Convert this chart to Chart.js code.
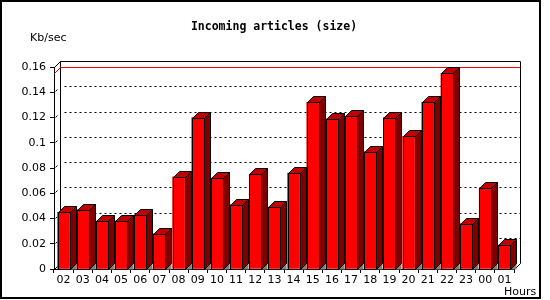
<!DOCTYPE html>
<html>
<head>
<meta charset="utf-8">
<script src="https://cdn.jsdelivr.net/npm/chart.js@4/dist/chart.umd.min.js"></script>
<style>
html,body{margin:0;padding:0;background:#fff;}
canvas{display:block;}
</style>
</head>
<body>
<canvas id="c" width="550" height="300"></canvas>
<script>
const hours = ['02','03','04','05','06','07','08','09','10','11','12','13','14','15','16','17','18','19','20','21','22','23','00','01'];
const sizes = [0.045,0.047,0.038,0.038,0.043,0.028,0.073,0.120,0.072,0.051,0.075,0.049,0.076,0.132,0.119,0.121,0.093,0.120,0.105,0.132,0.155,0.036,0.064,0.019];
const titleText = 'Incoming articles (size)';
const yTitle = 'Kb/sec';
const xTitle = 'Hours';
const yMax = 0.16;
const yStep = 0.02;

const D = 6;
const FONT = '"DejaVu Sans", sans-serif';

const threeD = {
  id: 'threeD',
  beforeDatasetsDraw(chart) {
    const ctx = chart.ctx, a = chart.chartArea, ys = chart.scales.y;
    const L = Math.round(a.left) + 0.5, R = Math.round(a.right) + 0.5;
    const T = Math.round(a.top) + 0.5, B = Math.round(a.bottom) + 0.5;
    ctx.save();
    ctx.lineWidth = 1;
    ctx.strokeStyle = '#000';
    ctx.beginPath();
    ctx.moveTo(L + D, B - D); ctx.lineTo(L + D, T - D); ctx.lineTo(R + D, T - D); ctx.lineTo(R + D, B - D);
    ctx.moveTo(L, T); ctx.lineTo(L + D, T - D);
    ctx.moveTo(L, B); ctx.lineTo(L + D, B - D);
    ctx.moveTo(R, B); ctx.lineTo(R + D, B - D);
    ctx.stroke();
    ctx.setLineDash([2, 3]);
    for (let v = yStep; v < yMax - 1e-9; v += yStep) {
      const py = Math.round(ys.getPixelForValue(v)) + 0.5;
      ctx.beginPath();
      ctx.moveTo(L + D + 4, py - D); ctx.lineTo(R + D, py - D);
      ctx.stroke();
    }
    ctx.setLineDash([]);
    for (let v = yStep; v < yMax - 1e-9; v += yStep) {
      const py = Math.round(ys.getPixelForValue(v)) + 0.5;
      ctx.beginPath();
      ctx.moveTo(L + 1, py - 1); ctx.lineTo(L + 3, py - 3);
      ctx.stroke();
    }
    const mx = Math.max(...sizes);
    const my = Math.round(ys.getPixelForValue(mx)) + 0.5;
    ctx.strokeStyle = '#ff0000';
    ctx.beginPath();
    ctx.moveTo(L, my); ctx.lineTo(L + D, my - D); ctx.lineTo(R + D, my - D);
    ctx.stroke();
    ctx.restore();
  },
  afterDatasetsDraw(chart) {
    const ctx = chart.ctx;
    const meta = chart.getDatasetMeta(0);
    ctx.save();
    ctx.lineWidth = 1;
    ctx.strokeStyle = '#000';
    meta.data.forEach(el => {
      const p = el.getProps(['x', 'y', 'base', 'width'], true);
      const x0 = Math.round(p.x - p.width / 2) + 0.5;
      const x1 = x0 + Math.round(p.width);
      const t = Math.round(p.y) + 0.5;
      const b = Math.round(p.base) + 0.5;
      ctx.fillStyle = '#808080';
      ctx.beginPath();
      ctx.moveTo(x1, b); ctx.lineTo(x1 + D, b - D); ctx.lineTo(x1 + D, b); ctx.closePath();
      ctx.fill();
      ctx.fillStyle = '#800000';
      ctx.beginPath();
      ctx.moveTo(x1, t); ctx.lineTo(x1 + D, t - D); ctx.lineTo(x1 + D, b - D); ctx.lineTo(x1, b); ctx.closePath();
      ctx.fill(); ctx.stroke();
      ctx.fillStyle = '#c00000';
      ctx.beginPath();
      ctx.moveTo(x0, t); ctx.lineTo(x0 + D, t - D); ctx.lineTo(x1 + D, t - D); ctx.lineTo(x1, t); ctx.closePath();
      ctx.fill(); ctx.stroke();
      ctx.strokeRect(x0, t, x1 - x0, b - t);
    });
    ctx.restore();
  },
  afterDraw(chart) {
    const ctx = chart.ctx;
    ctx.save();
    ctx.fillStyle = '#000';
    ctx.font = 'bold 11.5px "DejaVu Sans Mono", monospace';
    ctx.textAlign = 'center';
    ctx.textBaseline = 'middle';
    ctx.fillText(titleText, 274, 27);
    ctx.font = '11px ' + FONT;
    ctx.textAlign = 'left';
    ctx.fillText(yTitle, 30, 38);
    ctx.fillText(xTitle, 504, 292);
    ctx.strokeStyle = '#000';
    ctx.lineWidth = 2;
    ctx.strokeRect(1, 1, 539, 297);
    ctx.restore();
  }
};

new Chart(document.getElementById('c'), {
  type: 'bar',
  data: {
    labels: hours,
    datasets: [{
      data: sizes,
      backgroundColor: '#ff0000',
      borderWidth: 0,
      barThickness: 12
    }]
  },
  options: {
    responsive: false,
    animation: false,
    events: [],
    layout: { padding: { top: 67, right: 36, bottom: 0, left: 0 } },
    plugins: { legend: { display: false }, tooltip: { enabled: false }, title: { display: false } },
    scales: {
      x: {
        afterFit(s) { s.height = 31; },
        grid: { drawOnChartArea: false, drawTicks: true, tickLength: 4, color: '#000', offset: true },
        border: { display: true, color: '#000', width: 1 },
        ticks: { color: '#000', font: { family: FONT, size: 11 }, maxRotation: 0, autoSkip: false, padding: 1 }
      },
      y: {
        min: 0, max: yMax,
        afterFit(s) { s.width = 54; },
        grid: { drawOnChartArea: false, drawTicks: true, tickLength: 4, color: '#000' },
        border: { display: true, color: '#000', width: 1 },
        ticks: {
          stepSize: yStep, color: '#000', font: { family: FONT, size: 11 }, padding: 4,
          callback: v => String(+v.toFixed(2))
        }
      }
    }
  },
  plugins: [threeD]
});
</script>
</body>
</html>
